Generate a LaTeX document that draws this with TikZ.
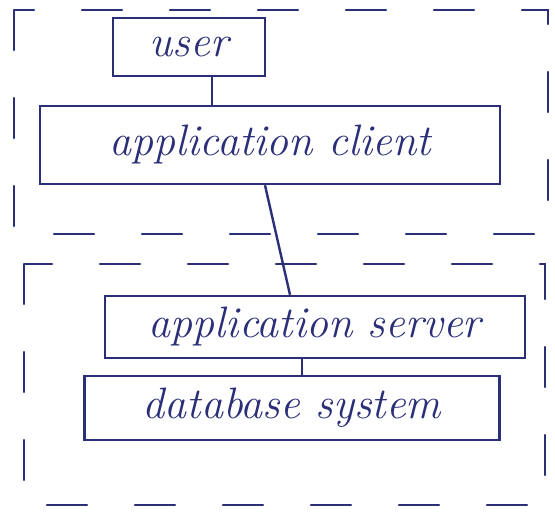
\documentclass[tikz,border=0pt]{standalone}
\usetikzlibrary{calc}
\definecolor{ink}{HTML}{2B2F78}
\tikzset{
  tierframe/.style={draw=ink, line width=2.4pt, dash pattern=on 40pt off 48pt, line cap=round},
  comp/.style={draw=ink, line width=2.4pt, rectangle, inner sep=0pt, text=ink,
               font=\fontsize{44}{48}\selectfont\itshape},
  link/.style={draw=ink, line width=2.4pt}
}
\begin{document}
\begin{tikzpicture}[x=1pt,y=-1pt]
  \useasboundingbox (0,0) rectangle (555,513);
  \fill[white] (0,0) rectangle (555,513);

  % client tier and server tier
  \draw[tierframe] (14,10) rectangle (548,234);
  \draw[tierframe] (24,264) rectangle (545,505);

  % components
  \node[comp, minimum width=152pt, minimum height=58pt] (user) at (189,47) {user};
  \node[comp, minimum width=460pt, minimum height=78pt] (client) at (270,145) {application client};
  \node[comp, minimum width=420pt, minimum height=62pt] (server) at (315,327) {application server};
  \node[comp, minimum width=415pt, minimum height=64pt] (db) at (292,408) {database system};

  % connections
  \draw[link] ([xshift=23pt]user.south) -- ([xshift=23pt]user.south |- client.north);
  \draw[link] ([xshift=-5pt]client.south) -- ([xshift=-25pt]server.north);
  \draw[link] ([xshift=-13pt]server.south) -- ([xshift=-13pt]server.south |- db.north);
\end{tikzpicture}
\end{document}
